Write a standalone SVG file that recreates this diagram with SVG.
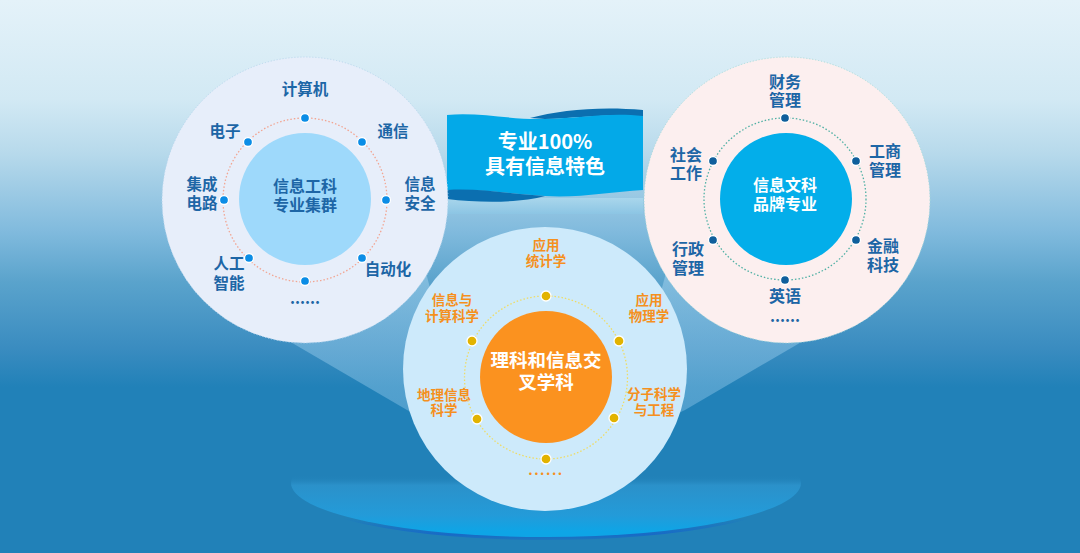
<svg xmlns="http://www.w3.org/2000/svg" width="1080" height="553" viewBox="0 0 1080 553">
<defs>
<linearGradient id="bg" x1="0" y1="0" x2="0" y2="553" gradientUnits="userSpaceOnUse">
<stop offset="0" stop-color="#e4f2f9"/>
<stop offset="0.18" stop-color="#d2e9f4"/>
<stop offset="0.28" stop-color="#b6d9eb"/>
<stop offset="0.42" stop-color="#80badd"/>
<stop offset="0.51" stop-color="#5aa3cc"/>
<stop offset="0.63" stop-color="#3a8cc0"/>
<stop offset="0.70" stop-color="#2181b8"/>
<stop offset="1" stop-color="#2181b8"/>
</linearGradient>
<linearGradient id="beam" x1="0" y1="0" x2="0" y2="1">
<stop offset="0" stop-color="#a8d4ee" stop-opacity="0.55"/>
<stop offset="1" stop-color="#7fbde3" stop-opacity="0.45"/>
</linearGradient>
<linearGradient id="plat" x1="0" y1="0" x2="0" y2="1">
<stop offset="0" stop-color="#2181b8" stop-opacity="0"/>
<stop offset="0.43" stop-color="#2181b8" stop-opacity="0"/>
<stop offset="0.52" stop-color="#2b91ca"/>
<stop offset="0.8" stop-color="#239bd9"/>
<stop offset="0.95" stop-color="#0ea5e6"/>
<stop offset="1" stop-color="#0ea5e6"/>
</linearGradient>
<linearGradient id="rim" x1="0" y1="0" x2="0" y2="1">
<stop offset="0" stop-color="#1668c8" stop-opacity="0"/>
<stop offset="0.8" stop-color="#1668c8" stop-opacity="0"/>
<stop offset="0.95" stop-color="#1668c8" stop-opacity="0.9"/>
<stop offset="1" stop-color="#1668c8" stop-opacity="0.4"/>
</linearGradient>
<linearGradient id="strip" x1="0" y1="0" x2="0" y2="1">
<stop offset="0" stop-color="#a9d6ec"/>
<stop offset="1" stop-color="#8cc5e4"/>
</linearGradient>
<style>
text { font-family: 'Noto Sans CJK SC', 'Noto Sans', sans-serif; font-weight: 700; text-anchor: middle; }
.lb { font-size: 15.5px; fill: #1d66a6; }
.lr { font-size: 16px; fill: #1d66a6; }
.lo { font-size: 13.5px; fill: #f5901e; }
.cw { fill: #ffffff; }
.dl { fill: #0b8de6; stroke: #ffffff; stroke-width: 1.3; }
.dr { fill: #0f5f9c; stroke: #ffffff; stroke-width: 1.3; }
.dy { fill: #e2b300; stroke: #ffffff; stroke-width: 1.3; }
.ring { fill: none; stroke-width: 1.3; stroke-dasharray: 1.5 2; }
</style>
</defs>

<g id="background">
<rect x="0" y="0" width="1080" height="553" fill="url(#bg)"/>
<rect x="447" y="198" width="196" height="16" fill="url(#strip)"/>
<polygon points="270,330 420,250 470,440 407,410" fill="url(#beam)"/>
<polygon points="822,330 672,250 622,440 685,410" fill="url(#beam)"/>
<ellipse cx="546" cy="486" rx="256" ry="54" fill="url(#rim)"/>
<ellipse cx="546" cy="483" rx="255" ry="54" fill="url(#plat)"/>
</g>

<g id="banner">
<path d="M530,118 C560,110 600,106 643,110 L643,117 C610,113 580,118 545,119 Z" fill="#0b6fb0"/>
<path d="M447,115 C480,112 510,120 545,119 C580,118 610,112 643,116 L643,190 C610,192 580,198 545,196 C510,194 480,188 447,191 Z" fill="#03a9e8"/>
<path d="M447,190 C480,188 510,194 545,196 C520,203 480,203 447,199 Z" fill="#0b6fb0"/>
<text x="545" y="149" style="font-size:20px" class="cw"><tspan x="545">专业100%</tspan><tspan x="545" dy="25">具有信息特色</tspan></text>
</g>

<g id="discs">
<circle cx="305" cy="200" r="143" fill="#e7eefa" stroke="#b9d6ee" stroke-width="1" stroke-dasharray="1 2"/>
<circle cx="787" cy="200" r="143" fill="#fcefef" stroke="#a9dcd8" stroke-width="1" stroke-dasharray="1 2"/>
<circle cx="545" cy="369" r="142" fill="#cdeafb"/>
</g>

<g id="connectors">
<circle class="ring" cx="305" cy="200" r="82" stroke="#f2a592"/>
<circle class="ring" cx="785" cy="199" r="81" stroke="#4fb0a4"/>
<circle class="ring" cx="546" cy="377.5" r="81.5" stroke="#efdc66"/>
</g>

<g id="node-engineering">
<circle cx="305" cy="199" r="66" fill="#9ed9fb"/>
<text x="305" y="192.3" class="lr"><tspan x="305">信息工科</tspan><tspan x="305" dy="18.3">专业集群</tspan></text>
<circle class="dl" cx="305" cy="118" r="4.5"/>
<circle class="dl" cx="362" cy="142" r="4.5"/>
<circle class="dl" cx="386" cy="200" r="4.5"/>
<circle class="dl" cx="362" cy="258" r="4.5"/>
<circle class="dl" cx="305" cy="281" r="4.5"/>
<circle class="dl" cx="249" cy="258" r="4.5"/>
<circle class="dl" cx="224" cy="200" r="4.5"/>
<circle class="dl" cx="248" cy="142" r="4.5"/>
<text x="305" y="94.6" class="lb">计算机</text>
<text x="225" y="137" class="lb">电子</text>
<text x="393" y="137" class="lb">通信</text>
<text x="202" y="190.3" class="lb"><tspan x="202">集成</tspan><tspan x="202" dy="18.3">电路</tspan></text>
<text x="420" y="190.3" class="lb"><tspan x="420">信息</tspan><tspan x="420" dy="18.3">安全</tspan></text>
<text x="229" y="268.6" class="lb"><tspan x="229">人工</tspan><tspan x="229" dy="20">智能</tspan></text>
<text x="388" y="274.6" class="lb">自动化</text>
<text x="305" y="304" class="lb">......</text>
</g>

<g id="node-liberal">
<circle cx="786" cy="199" r="66" fill="#03aeea"/>
<text x="785" y="190.6" class="lr cw"><tspan x="785">信息文科</tspan><tspan x="785" dy="19">品牌专业</tspan></text>
<circle class="dr" cx="785" cy="118" r="4.5"/>
<circle class="dr" cx="856" cy="161" r="4.5"/>
<circle class="dr" cx="856" cy="240" r="4.5"/>
<circle class="dr" cx="785" cy="280" r="4.5"/>
<circle class="dr" cx="713" cy="240" r="4.5"/>
<circle class="dr" cx="713" cy="161" r="4.5"/>
<text x="785" y="88" class="lr"><tspan x="785">财务</tspan><tspan x="785" dy="18.3">管理</tspan></text>
<text x="885" y="157.3" class="lr"><tspan x="885">工商</tspan><tspan x="885" dy="18.3">管理</tspan></text>
<text x="686" y="160.6" class="lr"><tspan x="686">社会</tspan><tspan x="686" dy="18.4">工作</tspan></text>
<text x="688" y="255" class="lr"><tspan x="688">行政</tspan><tspan x="688" dy="19">管理</tspan></text>
<text x="883" y="252.3" class="lr"><tspan x="883">金融</tspan><tspan x="883" dy="18.3">科技</tspan></text>
<text x="785" y="302.3" class="lr">英语</text>
<text x="785" y="322" class="lb">......</text>
</g>

<g id="node-science">
<circle cx="546" cy="377" r="66" fill="#fb921f"/>
<text x="546" y="367.2" class="cw" style="font-size:18.5px"><tspan x="546">理科和信息交</tspan><tspan x="546" dy="22">叉学科</tspan></text>
<circle class="dy" cx="546" cy="296" r="5"/>
<circle class="dy" cx="619" cy="341" r="5"/>
<circle class="dy" cx="614" cy="418" r="5"/>
<circle class="dy" cx="546" cy="459" r="5"/>
<circle class="dy" cx="477" cy="419" r="5"/>
<circle class="dy" cx="472" cy="341" r="5"/>
<text x="546" y="249.7" class="lo"><tspan x="546">应用</tspan><tspan x="546" dy="16.7">统计学</tspan></text>
<text x="452" y="304.7" class="lo"><tspan x="452">信息与</tspan><tspan x="452" dy="16.7">计算科学</tspan></text>
<text x="649" y="304.7" class="lo"><tspan x="649">应用</tspan><tspan x="649" dy="16.7">物理学</tspan></text>
<text x="444" y="399.7" class="lo"><tspan x="444">地理信息</tspan><tspan x="444" dy="15.7">科学</tspan></text>
<text x="654" y="398.7" class="lo"><tspan x="654">分子科学</tspan><tspan x="654" dy="16">与工程</tspan></text>
<text x="546" y="475" class="lo" style="letter-spacing:1.5px">......</text>
</g>
</svg>
